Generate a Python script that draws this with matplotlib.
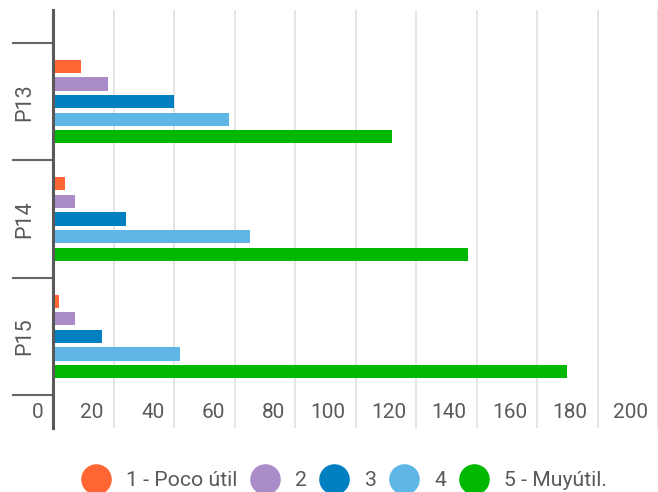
import matplotlib
matplotlib.use("Agg")
import matplotlib.pyplot as plt
import matplotlib.transforms as mtransforms
from matplotlib.lines import Line2D
import numpy as np

plt.rcParams['font.family'] = ['Roboto', 'DejaVu Sans']

# Survey answers per question, one list per rating level
questions = ["P13", "P14", "P15"]
levels = ["1 - Poco útil", "2", "3", "4", "5 - Muyútil."]
r1_poco_util = [9, 4, 2]
r2 = [18, 7, 7]
r3 = [40, 24, 16]
r4 = [58, 65, 42]
r5_muy_util = [112, 137, 170]
x_ticks = [0, 20, 40, 60, 80, 100, 120, 140, 160, 180, 200]

series = [r1_poco_util, r2, r3, r4, r5_muy_util]
colors = ["#ff6633", "#a98cc8", "#0080c0", "#5eb6e6", "#00b800"]

W, H = 658, 492
fig = plt.figure(figsize=(W / 100, H / 100), dpi=100)

x0_px, top_px, bot_px = 53.4, 10, 428
px_per_unit = 61.6 / 20
ax = fig.add_axes([x0_px / W, 1 - bot_px / H, 1 - x0_px / W, (bot_px - top_px) / H])

n = len(questions)
ypos = np.arange(n)
step, bar_h = 0.15, 0.113
for k, (vals, col) in enumerate(zip(series, colors)):
    ax.barh(ypos + (k - 2) * step, vals, height=bar_h, color=col, zorder=3)

ax.set_xlim(0, (W - x0_px) / px_per_unit)
band_px = 117.33
extra = 33 / band_px
ax.set_ylim(n - 0.5 + extra, -0.5 - extra)

for s in ["top", "right", "bottom"]:
    ax.spines[s].set_visible(False)
ax.spines["left"].set_color("#595959")
ax.spines["left"].set_linewidth(2.2)
ax.spines["left"].set_zorder(5)

# vertical grid
ax.set_xticks(x_ticks)
ax.set_xticklabels([str(v) for v in x_ticks])
ax.grid(axis="x", color="#e3e3e3", linewidth=1.3, zorder=0)
ax.set_axisbelow(True)
ax.tick_params(axis="x", length=0, pad=-15 * 72 / 100, labelsize=15,
               labelcolor="#5a5a5a")
offset = mtransforms.ScaledTranslation(-10 / 100, 0, fig.dpi_scale_trans)
for lab in ax.get_xticklabels():
    lab.set_horizontalalignment("right")
    lab.set_verticalalignment("center")
    lab.set_transform(lab.get_transform() + offset)

# category separators and labels
ax.set_yticks(np.arange(-0.5, n, 1.0))
ax.set_yticklabels([])
ax.tick_params(axis="y", which="major", length=41 * 72 / 100, width=1.5,
               color="#666666")
ax.set_yticks(ypos, minor=True)
ax.set_yticklabels(questions, minor=True, rotation=90, va="center")
ax.tick_params(axis="y", which="minor", length=0, pad=18 * 72 / 100,
               labelsize=15.5, labelcolor="#5a5a5a")

handles = [Line2D([], [], marker="o", linestyle="none", markersize=21,
                  markerfacecolor=c, markeredgecolor=c) for c in colors]
fig.legend(handles, levels, loc="center", bbox_to_anchor=(0.523, 0.0224),
           ncol=5, frameon=False, fontsize=15.3, labelcolor="#5a5a5a",
           handlelength=1.37, handletextpad=0.75, columnspacing=0.6,
           borderpad=0, borderaxespad=0)

fig.savefig("out.png", dpi=100)
